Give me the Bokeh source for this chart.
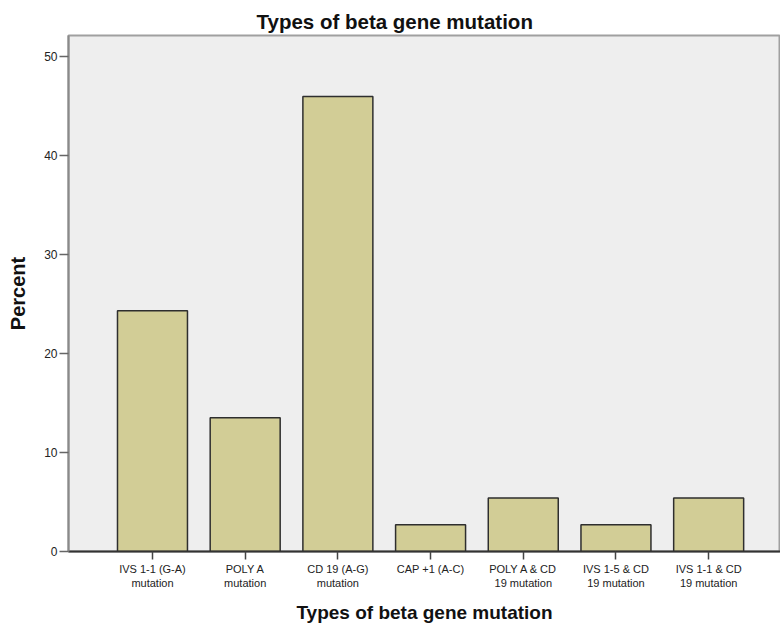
from bokeh.plotting import figure
from bokeh.models import Range1d, FixedTicker, ColumnDataSource
from bokeh.embed import file_html
from bokeh.resources import INLINE

categories = ["IVS 1-1 (G-A)\nmutation", "POLY A\nmutation", "CD 19 (A-G)\nmutation",
              "CAP +1 (A-C)", "POLY A & CD\n19 mutation", "IVS 1-5 & CD\n19 mutation",
              "IVS 1-1 & CD\n19 mutation"]
percent = [24.32, 13.51, 45.95, 2.70, 5.41, 2.70, 5.41]
y_ticks = [0, 10, 20, 30, 40, 50]

positions = list(range(len(categories)))
src = ColumnDataSource(dict(x=positions, top=percent))

p = figure(width=780, height=626, output_backend="svg", toolbar_location=None,
           x_range=Range1d(-0.906, 6.775), y_range=Range1d(0, 52.1),
           min_border_left=68, min_border_right=0, min_border_top=35, min_border_bottom=75,
           background_fill_color="white", border_fill_color="white")

p.vbar(x="x", top="top", width=0.755, source=src, fill_color="#d2cd96",
       line_color="#2e2e2e", line_width=1.5)

p.background_fill_color = "#eeeeee"
p.outline_line_color = "#a0a0a0"
p.outline_line_width = 2
p.xgrid.visible = False
p.ygrid.visible = False

p.title.text = "Types of beta gene mutation"
p.title.text_font = "Liberation Sans"
p.title.text_font_size = "20.5px"
p.title.text_font_style = "bold"
p.title.text_color = "#111111"
p.title.align = "left"
p.title.offset = 188
p.title.standoff = 6

p.xaxis.ticker = FixedTicker(ticks=positions)
p.xaxis.major_label_overrides = {i: c for i, c in zip(positions, categories)}
p.xaxis.axis_label = "Types of beta gene mutation"
p.yaxis.ticker = FixedTicker(ticks=y_ticks)
p.yaxis.axis_label = "Percent"

for ax in (p.xaxis[0], p.yaxis[0]):
    ax.major_label_text_font = "Liberation Sans"
    ax.major_label_text_color = "#222222"
    ax.axis_label_text_font = "Liberation Sans"
    ax.axis_label_text_font_style = "bold"
    ax.axis_label_text_color = "#111111"
    ax.minor_tick_line_color = None
    ax.major_tick_in = 0
    ax.major_tick_line_width = 1.5
    ax.axis_line_width = 2

p.xaxis.axis_label_text_font_size = "19px"
p.xaxis.major_label_text_font_size = "11px"
p.xaxis.major_tick_out = 8
p.xaxis.axis_line_color = "#333333"
p.xaxis.major_tick_line_color = "#444444"
p.xaxis.major_label_standoff = 3
p.xaxis.axis_label_standoff = 10

p.yaxis.axis_label_text_font_size = "20px"
p.yaxis.major_label_text_font_size = "12px"
p.yaxis.major_tick_out = 9
p.yaxis.axis_line_color = "#8a8a8a"
p.yaxis.major_tick_line_color = "#666666"
p.yaxis.major_label_standoff = 2
p.yaxis.axis_label_standoff = 12

open("out.html", "w").write(file_html(p, INLINE))
